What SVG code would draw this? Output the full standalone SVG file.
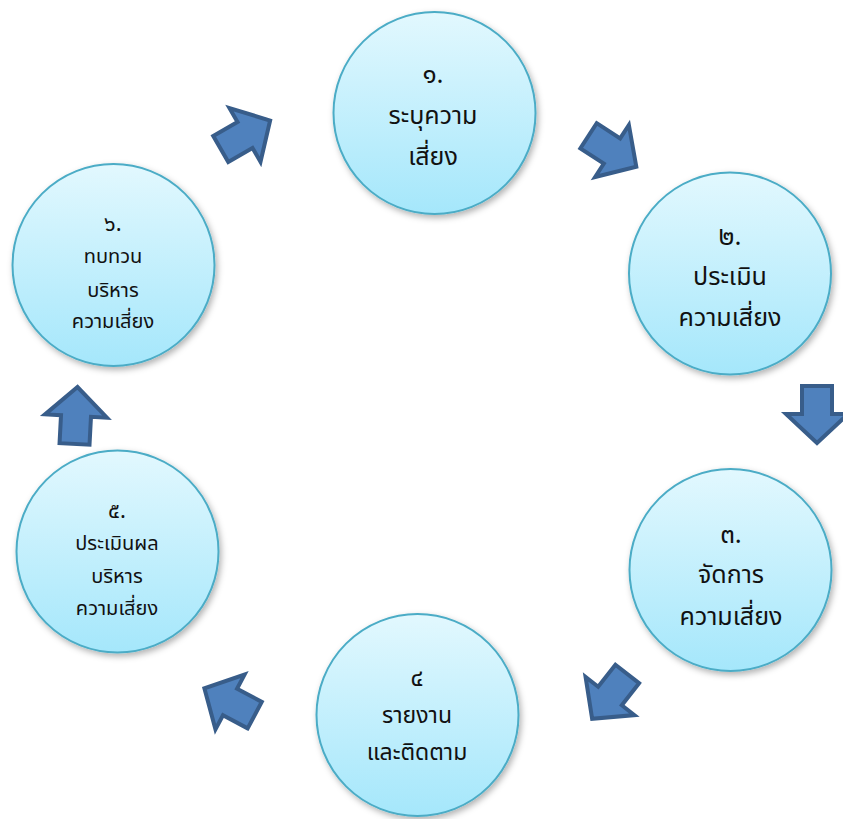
<svg xmlns="http://www.w3.org/2000/svg" width="843" height="819" viewBox="0 0 843 819">
<defs>
<linearGradient id="cg" x1="0" y1="0" x2="0" y2="1">
<stop offset="0" stop-color="#e2f8fe"/>
<stop offset="1" stop-color="#a5e7fb"/>
</linearGradient>
<filter id="sh" x="-20%" y="-20%" width="140%" height="140%">
<feDropShadow dx="2" dy="3" stdDeviation="3" flood-color="#000" flood-opacity="0.3"/>
</filter>
<polygon id="arr" points="-28,-15 0,-15 0,-31 29,0 0,31 0,15 -28,15"/>
</defs>
<style>
.c{fill:url(#cg);stroke:#4bacc6;stroke-width:2;filter:url(#sh)}
.a{fill:#4f81bd;stroke:#385d8a;stroke-width:4;stroke-linejoin:miter}
text{font-family:"Noto Sans Thai","Leelawadee UI",Tahoma,"Noto Sans","DejaVu Sans",sans-serif;fill:#111;text-anchor:middle}
.n{font-size:26px}
.nm{font-size:24px}
.ns{font-size:22px}
.t{font-size:25px}
.s{font-size:20px}
.m{font-size:23px}
</style>
<rect width="843" height="819" fill="#fff"/>
<g id="connectors">
<use href="#arr" class="a" transform="translate(245,135) rotate(-30)"/>
<use href="#arr" class="a" transform="translate(612,151) rotate(33)"/>
<use href="#arr" class="a" transform="translate(817,414) rotate(90)"/>
<use href="#arr" class="a" transform="translate(610,696) rotate(128)"/>
<use href="#arr" class="a" transform="translate(230,702) rotate(208)"/>
<use href="#arr" class="a" transform="translate(76,416) rotate(-87)"/>
</g>
<g id="node1">
<circle class="c" cx="434.5" cy="113" r="101"/>
<text class="n" x="433" y="83">๑.</text>
<text class="t" x="433" y="124">ระบุความ</text>
<text class="t" x="433" y="165">เสี่ยง</text>
</g>
<g id="node2">
<circle class="c" cx="730" cy="273.5" r="101"/>
<text class="n" x="730" y="245">๒.</text>
<text class="t" x="730" y="285">ประเมิน</text>
<text class="t" x="730" y="326">ความเสี่ยง</text>
</g>
<g id="node3">
<circle class="c" cx="730.5" cy="570" r="101"/>
<text class="n" x="731" y="543">๓.</text>
<text class="t" x="731" y="583">จัดการ</text>
<text class="t" x="731" y="625">ความเสี่ยง</text>
</g>
<g id="node4">
<circle class="c" cx="417.5" cy="715" r="101"/>
<text class="nm" x="417" y="686">๔</text>
<text class="m" x="417" y="723">รายงาน</text>
<text class="m" x="417" y="760">และติดตาม</text>
</g>
<g id="node5">
<circle class="c" cx="117.5" cy="551.5" r="101"/>
<text class="ns" x="117" y="518">๕.</text>
<text class="s" x="117" y="550">ประเมินผล</text>
<text class="s" x="117" y="583">บริหาร</text>
<text class="s" x="117" y="615">ความเสี่ยง</text>
</g>
<g id="node6">
<circle class="c" cx="113.5" cy="265" r="101"/>
<text class="ns" x="113" y="231">๖.</text>
<text class="s" x="113" y="263">ทบทวน</text>
<text class="s" x="113" y="297">บริหาร</text>
<text class="s" x="113" y="328">ความเสี่ยง</text>
</g>
</svg>
